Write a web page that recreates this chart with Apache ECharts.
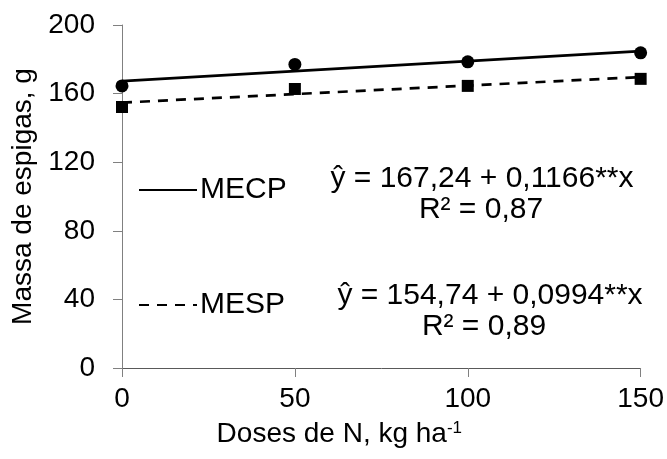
<!DOCTYPE html>
<html>
<head>
<meta charset="utf-8">
<script src="https://cdn.jsdelivr.net/npm/echarts@6/dist/echarts.min.js"></script>
<style>
  html, body { margin: 0; padding: 0; background: #fff; }
  #chart { width: 667px; height: 459px; }
</style>
</head>
<body>
<div id="chart"></div>
<script>
// doses de N (kg/ha)
var doses = [0, 50, 100, 150];
// valores observados
var mecp = [164.5, 177, 178.5, 183.8];
var mesp = [152.2, 162.7, 164.5, 168.6];
// retas ajustadas (pontos extremos)
var fitX = [0, 150];
var mecpFit = [167.24, 184.73];
var mespFit = [154.74, 169.65];
// textos das equações
var equacoes = ['ŷ = 167,24 + 0,1166**x', 'R² = 0,87', 'ŷ = 154,74 + 0,0994**x', 'R² = 0,89'];

function pares(xs, ys) {
  var out = [];
  for (var i = 0; i < xs.length; i++) out.push([xs[i], ys[i]]);
  return out;
}

var chart = echarts.init(document.getElementById('chart'));
var fonte = 'Liberation Sans, Arial, sans-serif';

var option = {
  animation: false,
  grid: { left: 122, right: 26, top: 25, bottom: 91 },
  legend: [
    {
      data: ['MECP'],
      left: 133, top: 170,
      itemWidth: 58, itemHeight: 14, itemGap: 4,
      itemStyle: { opacity: 0 },
      textStyle: { fontFamily: fonte, fontSize: 30, color: '#000', padding: [0, 0, 0, -2] }
    },
    {
      data: ['MESP'],
      left: 133, top: 285,
      itemWidth: 58, itemHeight: 14, itemGap: 4,
      itemStyle: { opacity: 0 },
      textStyle: { fontFamily: fonte, fontSize: 30, color: '#000', padding: [0, 0, 0, -2] }
    }
  ],
  xAxis: {
    type: 'value', min: 0, max: 150, interval: 50,
    name: '{a|Doses de N, kg ha}{s|-1}',
    nameLocation: 'middle', nameGap: 52,
    nameTextStyle: {
      padding: [0, 84, 0, 0],
      rich: {
        a: { fontFamily: fonte, fontSize: 28, color: '#000' },
        s: { fontFamily: fonte, fontSize: 17, color: '#000', verticalAlign: 'top', padding: [0, 0, 12, 0] }
      }
    },
    axisLine: { lineStyle: { color: '#595959', width: 1 } },
    axisTick: { show: true, length: 9, lineStyle: { color: '#808080' } },
    axisLabel: { fontFamily: fonte, fontSize: 28, color: '#000', margin: 17 },
    splitLine: { show: false }
  },
  yAxis: {
    type: 'value', min: 0, max: 200, interval: 40,
    name: 'Massa de espigas, g',
    nameLocation: 'middle', nameGap: 82,
    nameTextStyle: { fontFamily: fonte, fontSize: 28, color: '#000' },
    axisLine: { show: true, lineStyle: { color: '#808080', width: 1 } },
    axisTick: { show: true, length: 9, lineStyle: { color: '#808080' } },
    axisLabel: { fontFamily: fonte, fontSize: 28, color: '#000', margin: 27 },
    splitLine: { show: false }
  },
  series: [
    {
      name: 'MECP', type: 'line', data: pares(fitX, mecpFit),
      symbol: 'none', lineStyle: { color: '#000', width: 2.7, type: 'solid' },
      itemStyle: { color: '#000' }
    },
    {
      name: 'MESP', type: 'line', data: pares(fitX, mespFit),
      symbol: 'none', lineStyle: { color: '#000', width: 2.7, type: [10, 8] },
      itemStyle: { color: '#000' }
    },
    {
      name: 'obs MECP', type: 'scatter', data: pares(doses, mecp),
      symbol: 'circle', symbolSize: 13, itemStyle: { color: '#000', opacity: 1 }
    },
    {
      name: 'obs MESP', type: 'scatter', data: pares(doses, mesp),
      symbol: 'rect', symbolSize: 12, itemStyle: { color: '#000', opacity: 1 }
    }
  ],
  graphic: [
    { type: 'text', x: 482, y: 179, style: { text: equacoes[0], font: '30px ' + fonte, fill: '#000', align: 'center', verticalAlign: 'middle' } },
    { type: 'text', x: 481, y: 210, style: { text: equacoes[1], font: '30px ' + fonte, fill: '#000', align: 'center', verticalAlign: 'middle' } },
    { type: 'text', x: 490, y: 296, style: { text: equacoes[2], font: '30px ' + fonte, fill: '#000', align: 'center', verticalAlign: 'middle' } },
    { type: 'text', x: 484, y: 327, style: { text: equacoes[3], font: '30px ' + fonte, fill: '#000', align: 'center', verticalAlign: 'middle' } }
  ]
};

chart.setOption(option);
</script>
</body>
</html>
